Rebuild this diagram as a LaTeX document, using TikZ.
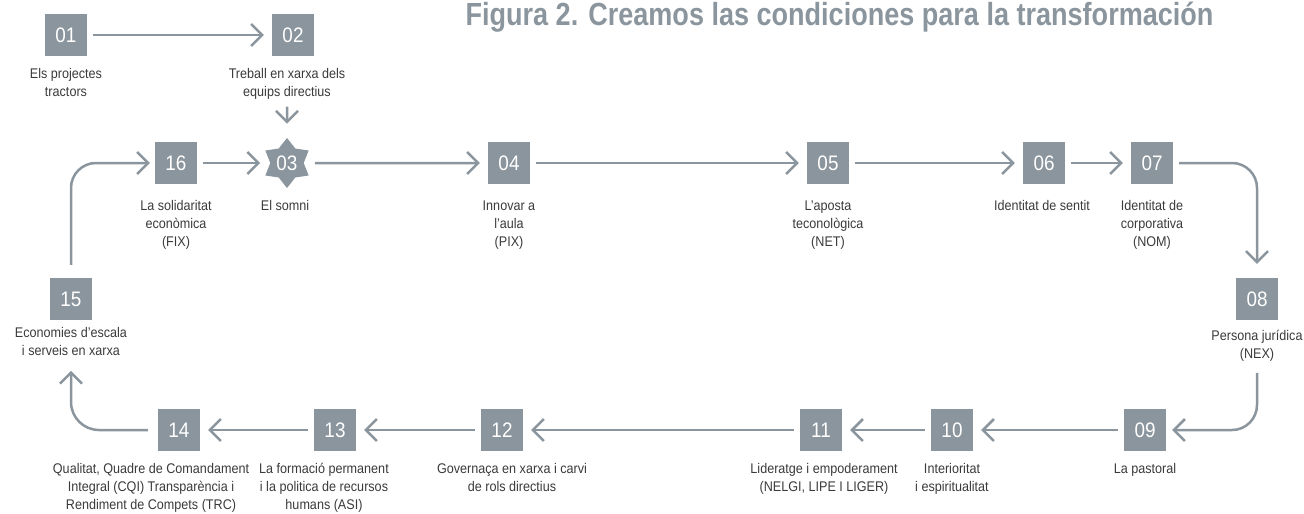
\documentclass[tikz,border=0pt]{standalone}
\usepackage{fontspec}
\setmainfont{Liberation Sans}[FakeStretch=0.9]
\newfontfamily\titlefont{Liberation Sans}[FakeStretch=0.845]
\usetikzlibrary{arrows.meta, positioning, shapes.geometric}
\definecolor{boxgray}{HTML}{8A959D}
\definecolor{txtgray}{HTML}{3A3A3A}
\tikzset{
  num/.style = {fill=boxgray, text=white, minimum size=42pt, inner sep=0pt, font=\fontsize{21}{21}\selectfont},
  starnum/.style = {num, star, star points=6, star point ratio=1.5, minimum size=50pt},
  lbl/.style = {align=center, inner sep=0pt, text=txtgray, font=\fontsize{14}{18}\selectfont},
  arr/.style = {draw=boxgray, line width=2.5pt, -{Straight Barb[length=11pt, width=22pt]}, shorten <=6pt, shorten >=8pt}
}

\begin{document}
\begin{tikzpicture}[x=1pt, y=1pt]
\useasboundingbox (0,0) rectangle (1304,-514);
\node[anchor=base east, text=boxgray, font=\titlefont\bfseries\fontsize{32}{32}\selectfont] (title) at (1217,-25) {Figura 2. Creamos las condiciones para la transformación};

\node[num] (B01) at (66,-35) {01};
\node[num] (B02) at (293,-35) {02};
\node[num] (B16) at (176,-163) {16};
\node[starnum] (S03) at (287,-163) {03};
\node[num] (B04) at (509,-163) {04};
\node[num] (B05) at (828,-163) {05};
\node[num] (B06) at (1044,-163) {06};
\node[num] (B07) at (1152,-163) {07};
\node[num] (B08) at (1257,-299) {08};
\node[num] (B15) at (71,-299) {15};
\node[num] (B09) at (1145,-430) {09};
\node[num] (B10) at (952,-430) {10};
\node[num] (B11) at (821,-430) {11};
\node[num] (B12) at (502,-430) {12};
\node[num] (B13) at (335,-430) {13};
\node[num] (B14) at (179,-430) {14};

\node[lbl, below=12pt of B01] (L01) {Els projectes\\tractors};
\node[lbl, below=12pt of B02, xshift=-6pt] (L02) {Treball en xarxa dels\\equips directius};
\node[lbl, below=16pt of B16] (L16) {La solidaritat\\econòmica\\(FIX)};
\node[lbl, below=12pt of S03, xshift=-2pt] (L03) {El somni};
\node[lbl, below=16pt of B04] (L04) {Innovar a\\l’aula\\(PIX)};
\node[lbl, below=16pt of B05] (L05) {L’aposta\\teconològica\\(NET)};
\node[lbl, below=16pt of B06, xshift=-2pt] (L06) {Identitat de sentit};
\node[lbl, below=16pt of B07] (L07) {Identitat de\\corporativa\\(NOM)};
\node[lbl, below=10pt of B08] (L08) {Persona jurídica\\(NEX)};
\node[lbl, below=7pt of B15] (L15) {Economies d’escala\\i serveis en xarxa};
\node[lbl, below=12pt of B09] (L09) {La pastoral};
\node[lbl, below=12pt of B10] (L10) {Interioritat\\i espiritualitat};
\node[lbl, below=12pt of B11, xshift=3pt] (L11) {Lideratge i empoderament\\(NELGI, LIPE I LIGER)};
\node[lbl, below=12pt of B12, xshift=10pt] (L12) {Governaça en xarxa i carvi\\de rols directius};
\node[lbl, below=12pt of B13, xshift=-11pt] (L13) {La formació permanent\\i la politica de recursos\\humans (ASI)};
\node[lbl, below=12pt of B14, xshift=-28pt] (L14) {Qualitat, Quadre de Comandament\\Integral (CQI) Transparència i\\Rendiment de Compets (TRC)};

\draw[arr] (B01) -- (B02);
\draw[arr, shorten <=7pt, shorten >=14pt] (L02) -- (S03);
\draw[arr, rounded corners=25pt, shorten <=13pt, shorten >=5pt] (B15) |- (B16);
\draw[arr, shorten >=10pt] (B16) -- (S03);
\draw[arr, shorten <=11pt] (S03) -- (B04);
\draw[arr] (B04) -- (B05);
\draw[arr] (B05) -- (B06);
\draw[arr] (B06) -- (B07);
\draw[arr, rounded corners=25pt, shorten >=14pt] (B07) -| (B08);
\draw[arr, rounded corners=25pt, shorten <=11pt, shorten >=6pt] (L08) |- (B09);
\draw[arr] (B09) -- (B10);
\draw[arr] (B10) -- (B11);
\draw[arr] (B11) -- (B12);
\draw[arr] (B12) -- (B13);
\draw[arr] (B13) -- (B14);
\draw[arr, rounded corners=28pt, shorten <=10pt, shorten >=15pt] (B14) -| (L15);
\end{tikzpicture}
\end{document}
